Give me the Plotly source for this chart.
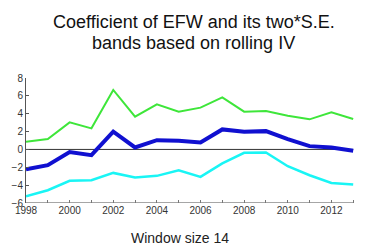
import plotly.graph_objects as go

years = list(range(1998, 2014))
upper = [0.85, 1.16, 3.03, 2.36, 6.66, 3.67, 5.05, 4.23, 4.68, 5.84, 4.23, 4.30, 3.78, 3.37, 4.15, 3.40]
coef = [-2.21, -1.76, -0.30, -0.64, 1.98, 0.22, 1.04, 0.97, 0.78, 2.24, 1.98, 2.05, 1.16, 0.37, 0.22, -0.15]
lower = [-5.25, -4.57, -3.52, -3.45, -2.63, -3.15, -2.96, -2.33, -3.08, -1.57, -0.38, -0.34, -1.88, -2.89, -3.75, -3.94]
x_ticks = list(range(1998, 2015))
x_labels = [str(y) if y % 2 == 0 else "" for y in x_ticks]
y_ticks = [-6, -4, -2, 0, 2, 4, 6, 8]

fig = go.Figure()
fig.add_trace(go.Scatter(x=years, y=upper, mode="lines", line=dict(color="#3ee63a", width=2)))
fig.add_trace(go.Scatter(x=years, y=lower, mode="lines", line=dict(color="#19f5f5", width=2.5)))
fig.add_trace(go.Scatter(x=years, y=coef, mode="lines", line=dict(color="#1010d0", width=4)))
fig.add_shape(type="line", x0=years[0], x1=years[-1], y0=0, y1=0, xref="x", yref="y",
              line=dict(color="#333333", width=1), layer="below")
fig.add_shape(type="line", x0=years[0], x1=years[-1], y0=-6, y1=-6, xref="x", yref="y",
              line=dict(color="#888888", width=1.5), layer="below")

fig.update_layout(
    width=375, height=252,
    margin=dict(l=26, r=0, t=78, b=49),
    paper_bgcolor="white", plot_bgcolor="white",
    showlegend=False,
    font=dict(family="Liberation Sans, Arial", color="#222222"),
    annotations=[
        dict(text="Coefficient of EFW and its two*S.E.", x=0.481, y=1.448,
             xref="paper", yref="paper", xanchor="center", yanchor="middle",
             showarrow=False, font=dict(size=18, color="#111111")),
        dict(text="bands based on rolling IV", x=0.481, y=1.28,
             xref="paper", yref="paper", xanchor="center", yanchor="middle",
             showarrow=False, font=dict(size=18, color="#111111")),
        dict(text="Window size 14", x=0.441, y=-0.28,
             xref="paper", yref="paper", xanchor="center", yanchor="middle",
             showarrow=False, font=dict(size=14, color="#222222")),
    ],
)
fig.update_xaxes(range=[1998, 2014], tickvals=x_ticks, ticktext=x_labels,
                 ticks="inside", ticklen=3, tickcolor="#777777",
                 showline=False, showgrid=False, zeroline=False,
                 tickfont=dict(size=10, color="#333333"))
fig.update_yaxes(range=[-6, 8], tickvals=y_ticks,
                 ticks="inside", ticklen=3, tickcolor="#555555",
                 showline=True, linecolor="#555555", showgrid=False, zeroline=False,
                 tickfont=dict(size=10, color="#333333"))
fig.write_html("out.html", config={"displayModeBar": False},
               post_script="document.body.style.margin='0';document.body.style.overflow='hidden';")
